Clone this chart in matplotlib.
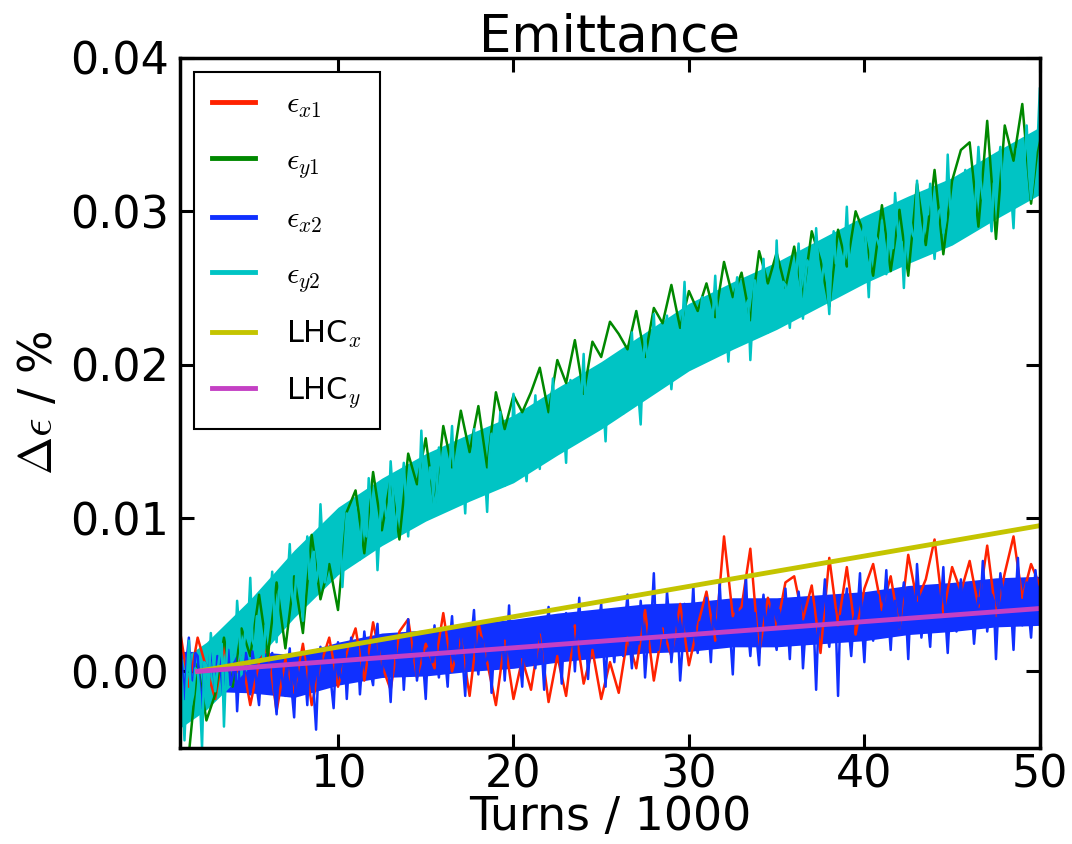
import numpy as np
import matplotlib
matplotlib.use("Agg")
import matplotlib.pyplot as plt
from matplotlib.ticker import MultipleLocator

# values, in units of 1e-3 (turns axis is in thousands)
# eps_x2 and eps_y2: one value every 125 turns from 1k to 50k
eps_x2 = [
    1.5, 0.2, -1.8, 0.8, 2.2, -0.5, -0.6, 1.2, 1.0, -1.0, -2.4, 0.6, 0.4, -0.8, 1.8, 0.3, -1.2, 1.0, 0.9, -0.6,
    -2.0, 0.5, 1.4, -0.9, -0.3, 1.1, -2.6, 0.0, 0.8, -0.7, 1.2, 0.4, -1.5, 1.3, 0.3, -1.1, -2.2, 0.2, 1.0, -0.4,
    -0.8, 0.4, 1.2, -1.2, -2.8, 0.8, 0.2, -1.0, -1.6, 0.2, 1.5, -1.4, -3.0, 0.6, -0.4, -0.9, 0.9, -0.2, -2.2, 1.0,
    0.5, -1.5, -3.8, 0.0, 1.6, -0.4, -1.0, 1.1, 0.3, -1.0, -2.4, 0.7, 1.9, -0.2, -0.6, 1.2, -1.8, 0.6, 2.2, -0.3,
    0.4, 1.6, -1.5, 0.6, 2.6, 1.2, 0.8, -0.2, -0.9, 1.8, 3.1, 0.4, -0.2, 2.0, 1.6, 0.2, -2.0, 1.0, 2.2, 0.0,
    0.3, 1.9, -1.2, 1.2, 3.4, 0.4, 0.9, 2.2, -0.6, 0.8, 2.0, 0.2, -1.8, 1.5, 1.4, 0.6, 3.0, 0.9, -0.4, 1.8,
    1.8, 0.6, -1.0, 2.0, 3.6, 1.0, 0.5, 2.6, 2.4, 0.4, -1.6, 1.8, 1.2, 2.4, 4.0, 1.0, -0.2, 2.2, 2.0, 0.6,
    0.8, 2.0, -1.4, 1.2, 3.2, 0.4, 1.5, 2.4, -0.6, 1.6, 4.3, 0.8, 0.9, 2.0, 2.6, 0.6, -1.0, 2.4, 1.7, 1.2,
    3.4, 1.8, 0.2, 2.8, 2.0, 1.2, -1.2, 2.4, 4.2, 2.0, 1.0, 3.0, 2.8, 1.4, -0.8, 2.6, 3.8, 1.0, 1.6, 2.8,
    0.0, 2.4, 4.8, 1.6, 2.2, 3.0, -0.5, 1.8, 3.0, 2.2, 1.2, 3.2, 4.4, 1.4, -1.0, 2.6, 2.6, 1.8, 0.6, 3.0,
    3.6, 2.2, 1.0, 3.4, 5.0, 2.0, 0.2, 3.2, 2.8, 1.8, 4.6, 2.8, -0.4, 1.6, 3.2, 3.6, 6.4, 2.4, 1.4, 3.0,
    2.2, 1.8, 5.2, 3.4, 0.6, 2.2, 3.8, 2.6, -0.6, 1.4, 4.4, 3.6, 2.0, 2.8, 5.6, 2.0, 1.2, 3.2, 3.0, 2.4,
    4.8, 2.6, 0.6, 3.6, 3.4, 2.2, 5.8, 3.0, 1.8, 3.8, 2.6, 2.0, -0.2, 3.4, 4.2, 2.4, 3.0, 3.8, 6.2, 2.6,
    1.0, 3.2, 3.8, 2.0, 0.4, 3.6, 5.0, 2.8, 2.4, 3.4, 4.6, 2.2, 1.4, 4.0, 3.2, 2.6, 5.4, 3.2, 0.8, 3.8,
    3.6, 2.8, 5.2, 3.8, 0.2, 2.4, 2.8, 3.6, 4.4, 2.6, -1.2, 3.0, 3.0, 4.0, 6.0, 2.6, 1.6, 3.4, 4.0, 2.8,
    -1.6, 3.6, 2.4, 4.0, 5.4, 2.6, 1.0, 3.2, 3.8, 4.2, 6.4, 2.8, 0.6, 3.6, 4.2, 3.0, 2.0, 4.0, 5.0, 3.4,
    3.2, 4.4, 6.6, 3.4, 1.4, 4.0, 4.6, 3.2, 2.8, 4.6, 5.8, 3.6, 0.8, 4.2, 4.0, 3.0, 7.0, 4.8, 2.2, 3.6,
    4.8, 3.2, 1.6, 4.4, 5.4, 3.8, 3.4, 4.6, 6.8, 3.4, 1.2, 4.0, 4.4, 3.2, 2.6, 4.6, 6.0, 3.6, 3.8, 4.8,
    5.6, 4.0, 1.8, 3.6, 4.8, 4.4, 7.2, 5.0, 2.6, 3.8, 5.0, 4.6, 0.8, 4.0, 6.4, 5.2, 3.6, 4.2, 4.6, 3.8,
    1.4, 4.8, 7.4, 4.4, 3.0, 5.0, 5.8, 3.8, 2.2, 4.6, 6.6, 5.0, 4.2,
]
eps_y2 = [
    0.5, -1.0, -4.5, -0.8, 2.0, -2.2, -1.5, 0.2, 0.0, -1.6, -5.0, 0.6, 0.4, -1.2, 2.5, 1.0, -1.3, 0.0, 1.0, 1.8,
    -3.6, 0.4, 2.9, 2.2, 0.7, 1.0, 4.6, 2.6, -0.2, 1.4, 3.1, 3.0, 6.1, 2.0, 1.6, 3.6, 3.4, 2.4, 0.7, 3.0,
    2.9, 4.4, 6.5, 3.4, 1.9, 5.2, 5.8, 4.0, 4.8, 6.0, 8.3, 5.0, 4.1, 6.4, 6.6, 5.2, 3.3, 7.0, 8.8, 6.0,
    7.3, 7.8, 5.8, 6.6, 10.9, 8.2, 5.8, 7.0, 9.0, 8.8, 7.5, 7.6, 10.5, 9.2, 5.5, 8.0, 10.3, 9.6, 9.3, 8.4,
    10.7, 9.0, 7.3, 10.2, 9.9, 8.8, 12.6, 11.0, 9.0, 10.4, 6.6, 9.2, 12.2, 11.2, 10.1, 10.0, 13.7, 11.6, 9.1, 10.4,
    11.9, 12.0, 13.6, 11.0, 8.8, 12.2, 12.0, 10.8, 10.5, 11.6, 15.7, 12.6, 11.4, 11.4, 13.3, 12.4, 10.3, 11.8, 14.6, 13.0,
    14.5, 12.8, 11.1, 13.6, 16.0, 12.2, 12.5, 14.0, 14.0, 12.6, 10.3, 13.8, 13.9, 12.6, 15.8, 13.4, 11.7, 14.2, 13.8, 12.8,
    10.4, 14.0, 15.5, 13.4, 13.2, 14.6, 16.9, 13.0, 12.1, 14.4, 15.2, 13.6, 18.1, 15.0, 13.5, 14.2, 15.3, 13.6, 12.4, 15.4,
    14.6, 16.0, 18.0, 15.2, 13.2, 16.4, 16.9, 15.4, 15.7, 17.0, 19.1, 16.2, 14.7, 17.2, 17.0, 15.8, 13.6, 17.6, 19.0, 16.6,
    17.4, 17.0, 15.7, 18.0, 20.7, 16.6, 15.5, 17.8, 18.7, 16.8, 17.0, 18.4, 20.0, 17.4, 15.0, 18.8, 19.8, 17.6, 18.8, 18.2,
    20.2, 18.4, 16.8, 19.6, 19.4, 20.4, 22.1, 19.2, 18.5, 18.0, 16.1, 19.8, 21.7, 20.6, 19.7, 21.0, 23.3, 20.0, 18.7, 21.4,
    21.5, 22.2, 23.2, 20.6, 18.4, 20.2, 21.6, 21.0, 20.2, 22.6, 25.4, 21.8, 21.2, 22.4, 23.1, 21.4, 20.1, 22.8, 24.4, 22.0,
    24.3, 22.6, 21.0, 23.4, 25.8, 22.8, 22.4, 24.0, 23.9, 22.2, 20.2, 22.8, 23.8, 24.4, 25.7, 23.2, 21.6, 22.8, 23.8, 24.2,
    20.3, 23.0, 25.5, 24.4, 23.2, 24.8, 26.9, 23.6, 22.1, 24.6, 25.2, 23.8, 28.1, 24.4, 23.5, 25.4, 25.2, 23.8, 22.4, 24.6,
    24.5, 26.0, 27.9, 25.0, 23.0, 25.6, 26.8, 26.4, 25.5, 25.4, 28.9, 26.6, 24.4, 26.0, 26.8, 25.4, 23.3, 27.0, 28.7, 26.6,
    27.0, 26.0, 25.4, 27.4, 30.3, 26.8, 25.1, 27.6, 28.2, 27.0, 26.6, 28.0, 29.5, 27.0, 24.4, 27.8, 29.2, 28.4, 28.1, 27.6,
    29.4, 27.8, 25.9, 28.6, 28.5, 27.6, 31.2, 29.2, 27.5, 28.0, 25.0, 28.4, 30.6, 29.4, 28.5, 28.2, 32.0, 29.6, 27.3, 28.6,
    30.1, 29.8, 31.8, 28.8, 26.9, 29.0, 30.0, 30.2, 28.6, 29.4, 33.7, 30.4, 29.4, 29.6, 31.4, 30.6, 28.4, 30.0, 32.7, 31.2,
    32.7, 31.0, 29.4, 31.6, 34.2, 32.0, 30.8, 31.4, 32.3, 30.6, 28.7, 31.8, 32.3, 33.0, 34.2, 31.6, 30.2, 31.2, 32.4, 31.0,
    28.9, 32.4, 34.1, 32.8, 31.8, 33.2, 35.6, 32.6, 30.8, 32.2, 33.9, 34.6, 38.0,
]
# eps_x1 and eps_y1: one value every 500 turns (mostly hidden under the others)
eps_x1 = [
    2.6, -1.0, 2.2, 0.2, -1.8, 1.6, -0.8, 1.0, -2.2, 0.6,
    1.6, -2.6, 0.8, -1.4, 1.8, -2.2, 0.4, 2.2, -1.0, 1.2,
    2.8, -0.6, 3.2, 0.4, -1.2, 2.6, 3.4, -0.4, 1.8, 0.2,
    3.8, 0.0, 2.2, -1.6, 3.2, 0.6, -2.2, 2.0, -1.8, 0.8,
    -1.2, 2.4, -2.0, 1.0, -1.6, 3.0, -0.8, 1.4, -1.8, 0.6,
    -1.4, 2.2, 0.2, 4.0, -0.6, 2.8, 1.0, 4.4, 0.4, 3.0,
    5.2, 2.0, 8.8, 3.6, 4.2, 8.0, 1.2, 4.8, 2.8, 5.8,
    6.2, 3.4, 5.6, 1.2, 7.4, 3.0, 6.8, 2.4, 5.4, 7.0,
    4.0, 6.2, 2.8, 7.6, 4.6, 6.0, 8.6, 3.8, 6.8, 5.2,
    7.2, 4.2, 8.2, 3.6, 6.4, 8.8, 4.8, 7.0, 5.6,
]
eps_y1 = [
    -5.0, -5.4, 0.5, -3.2, -1.5, 2.2, -1.0, 2.8, 1.0, 5.0,
    1.0, 5.8, 1.5, 6.2, 2.5, 8.9, 4.7, 7.0, 4.0, 10.4,
    11.8, 7.7, 13.0, 9.2, 12.5, 8.6, 14.2, 12.2, 15.2, 10.8,
    16.0, 13.3, 17.0, 14.3, 17.3, 13.3, 18.2, 15.8, 18.0, 16.9,
    18.2, 19.8, 16.9, 20.3, 18.8, 21.6, 18.1, 21.5, 20.5, 22.8,
    22.0, 21.0, 23.5, 20.5, 23.7, 22.7, 25.2, 22.4, 24.8, 23.5,
    25.3, 23.1, 26.7, 24.4, 26.0, 22.9, 27.4, 25.3, 27.3, 25.0,
    27.7, 24.4, 28.7, 26.8, 23.8, 28.8, 26.4, 30.0, 28.5, 25.8,
    30.4, 26.1, 30.1, 25.8, 31.8, 27.8, 32.7, 27.2, 32.0, 34.0,
    34.5, 29.0, 35.9, 28.2, 35.6, 33.3, 37.0, 30.5, 35.3,
]

# dense core of the x2 / y2 noise bands (solid part), every 2500 turns
core_turns = [1, 2.5, 5, 7.5, 10, 12.5, 15, 17.5, 20, 22.5, 25,
              27.5, 30, 32.5, 35, 37.5, 40, 42.5, 45, 47.5, 50]
x2_core_lo = [-1.3, -1.3, -1.4, -1.7, -0.9, -0.4, -0.3, 0.0, 0.2, 0.6, 0.9,
              1.2, 1.3, 1.6, 1.6, 1.8, 2.0, 2.4, 2.6, 2.9, 3.0]
x2_core_hi = [1.3, 1.3, 1.3, 1.1, 1.9, 2.5, 2.7, 3.1, 3.4, 3.8, 4.1,
              4.4, 4.5, 4.8, 4.8, 5.0, 5.2, 5.6, 5.8, 6.1, 6.2]
y2_core_lo = [-3.7, -2.5, 0.3, 3.5, 6.3, 8.2, 9.8, 11.1, 12.3, 14.1, 15.8,
              17.7, 19.6, 21.0, 22.3, 23.8, 25.3, 26.6, 27.8, 29.5, 31.1]
y2_core_hi = [0.7, 1.9, 4.7, 7.9, 10.7, 12.6, 14.2, 15.5, 16.7, 18.5, 20.2,
              22.1, 24.0, 25.4, 26.7, 28.2, 29.7, 31.0, 32.2, 33.9, 35.5]

# LHC reference lines (straight, start/end points)
lhc_turns = [2, 50]
lhc_x = [0.0, 9.5]
lhc_y = [0.0, 4.1]

plt.rcParams["mathtext.fontset"] = "cm"

fig = plt.figure(figsize=(10.72, 8.44), dpi=100)
ax = fig.add_axes([0.168, 0.1137, 0.802, 0.8176])

series = [
    (eps_x1, None, None, "#ff2200", r"$\epsilon_{x1}$"),
    (eps_y1, None, None, "#008800", r"$\epsilon_{y1}$"),
    (eps_x2, x2_core_lo, x2_core_hi, "#1030ff", r"$\epsilon_{x2}$"),
    (eps_y2, y2_core_lo, y2_core_hi, "#00c4c4", r"$\epsilon_{y2}$"),
]
for vals, lo, hi, col, lab in series:
    if lo is not None:
        ax.fill_between(core_turns, np.array(lo) * 1e-3, np.array(hi) * 1e-3,
                        color=col, lw=0)
    t = np.linspace(1, 50, len(vals))
    ax.plot(t, np.array(vals) * 1e-3, color=col, lw=1.8, label=lab)

ax.plot(lhc_turns, np.array(lhc_x) * 1e-3, color="#c4c400", lw=3.5, label=r"LHC$_x$")
ax.plot(lhc_turns, np.array(lhc_y) * 1e-3, color="#c440c4", lw=3.5, label=r"LHC$_y$")

ax.set_xlim(1, 50)
ax.set_ylim(-0.005, 0.04)
ax.xaxis.set_major_locator(MultipleLocator(10))
ax.yaxis.set_major_locator(MultipleLocator(0.01))
ax.tick_params(direction="in", length=10, width=2.2, labelsize=32,
               top=True, right=True)
ax.tick_params(axis="x", pad=4)
ax.tick_params(axis="y", pad=8)
for sp in ax.spines.values():
    sp.set_linewidth(2.5)

ax.set_title("Emittance", fontsize=37, pad=5)
ax.set_xlabel("Turns / 1000", fontsize=33, labelpad=-1)
ax.set_ylabel(r"$\Delta\epsilon$ / %", fontsize=33, labelpad=6)

leg = ax.legend(loc="upper left", fontsize=22, fancybox=False, framealpha=1,
                edgecolor="black", handlelength=1.4, handletextpad=1.0,
                labelspacing=0.82, borderpad=0.6, borderaxespad=0.45)
leg.get_frame().set_linewidth(1.5)
for line in leg.get_lines():
    line.set_linewidth(3.5)

fig.savefig("out.png", dpi=100)
